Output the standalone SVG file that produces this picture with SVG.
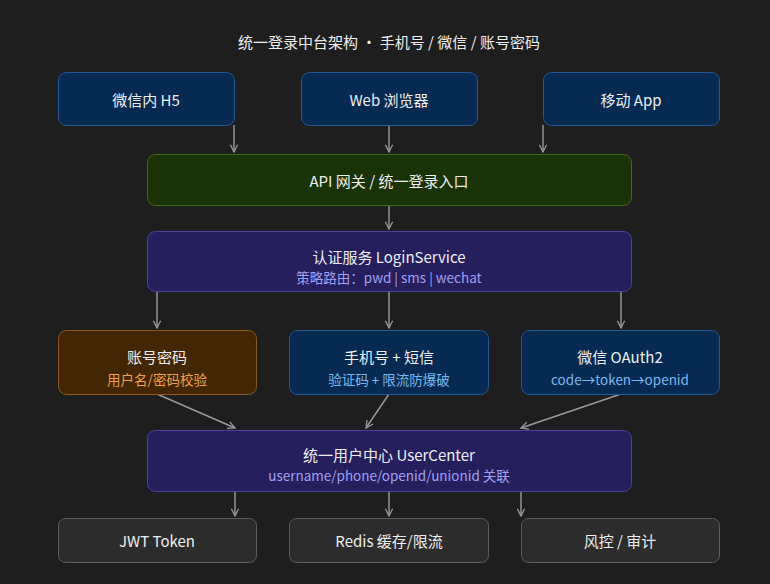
<svg xmlns="http://www.w3.org/2000/svg" width="770" height="584" viewBox="0 0 770 584">
<style>
text{font-family:"Noto Sans CJK SC","Noto Sans","Liberation Sans",sans-serif;text-anchor:middle;dominant-baseline:central}
.t{font-size:15px;fill:#eeeeee}
.s{font-size:13.5px}
.blue rect{fill:#062a52;stroke:#245890}
.green rect{fill:#1a3306;stroke:#3d6a1c}
.purple rect{fill:#251f5e;stroke:#4a439e}
.orange rect{fill:#432603;stroke:#8a5a18}
.gray rect{fill:#2c2c2c;stroke:#5c5c5c}
rect{stroke-width:1}
.e path{stroke:#9a9a9a;stroke-width:1.4;fill:none;marker-end:url(#a)}
</style>
<defs>
<marker id="a" viewBox="0 0 10 10" refX="9" refY="5" markerWidth="9" markerHeight="9" orient="auto" markerUnits="userSpaceOnUse">
<path d="M1,1 L9,5 L1,9" fill="none" stroke="#9a9a9a" stroke-width="1.4"/>
</marker>
</defs>
<rect width="770" height="584" fill="#1e1e1e"/>
<text x="389" y="41" class="t">统一登录中台架构 · 手机号 / 微信 / 账号密码</text>
<g class="e" id="connectors">
<path d="M234,125 V152"/>
<path d="M389,125 V152"/>
<path d="M543,125 V152"/>
<path d="M389,205 V229"/>
<path d="M157,291 V328"/>
<path d="M389,291 V328"/>
<path d="M621,291 V328"/>
<path d="M157,394 L235,428"/>
<path d="M389,394 L366,428"/>
<path d="M621,394 L521,428"/>
<path d="M235,491 V516"/>
<path d="M389,491 V516"/>
<path d="M521,491 V516"/>
</g>
<g id="h5" class="blue"><rect x="58.5" y="72.5" width="176" height="53" rx="8"/><text x="146" y="99" class="t">微信内 H5</text></g>
<g id="web" class="blue"><rect x="301.5" y="72.5" width="176" height="53" rx="8"/><text x="389" y="99" class="t">Web 浏览器</text></g>
<g id="app" class="blue"><rect x="543.5" y="72.5" width="176" height="53" rx="8"/><text x="631" y="99" class="t">移动 App</text></g>
<g id="gateway" class="green"><rect x="147.5" y="154.5" width="484" height="51" rx="8"/><text x="389" y="180" class="t">API 网关 / 统一登录入口</text></g>
<g id="login" class="purple"><rect x="147.5" y="231.5" width="484" height="60" rx="8"/><text x="389" y="256" class="t">认证服务 LoginService</text><text x="389" y="277" class="s" fill="#a3a0f2">策略路由：pwd | sms | wechat</text></g>
<g id="pwd" class="orange"><rect x="58.5" y="330.5" width="198" height="64" rx="8"/><text x="157" y="356" class="t">账号密码</text><text x="157" y="379" class="s" fill="#f0a04c">用户名/密码校验</text></g>
<g id="sms" class="blue"><rect x="289.5" y="330.5" width="199" height="64" rx="8"/><text x="389" y="356" class="t">手机号 + 短信</text><text x="389" y="379" class="s" fill="#7cb8f0">验证码 + 限流防爆破</text></g>
<g id="wechat" class="blue"><rect x="521.5" y="330.5" width="198" height="64" rx="8"/><text x="620" y="356" class="t">微信 OAuth2</text><text x="620" y="379" class="s" fill="#7cb8f0">code→token→openid</text></g>
<g id="usercenter" class="purple"><rect x="147.5" y="430.5" width="484" height="61" rx="8"/><text x="389" y="454" class="t">统一用户中心 UserCenter</text><text x="389" y="475" class="s" fill="#a3a0f2">username/phone/openid/unionid 关联</text></g>
<g id="jwt" class="gray"><rect x="58.5" y="518.5" width="198" height="44" rx="7"/><text x="157" y="540" class="t">JWT Token</text></g>
<g id="redis" class="gray"><rect x="289.5" y="518.5" width="199" height="44" rx="7"/><text x="389" y="540" class="t">Redis 缓存/限流</text></g>
<g id="risk" class="gray"><rect x="521.5" y="518.5" width="198" height="44" rx="7"/><text x="620" y="540" class="t">风控 / 审计</text></g>
</svg>
